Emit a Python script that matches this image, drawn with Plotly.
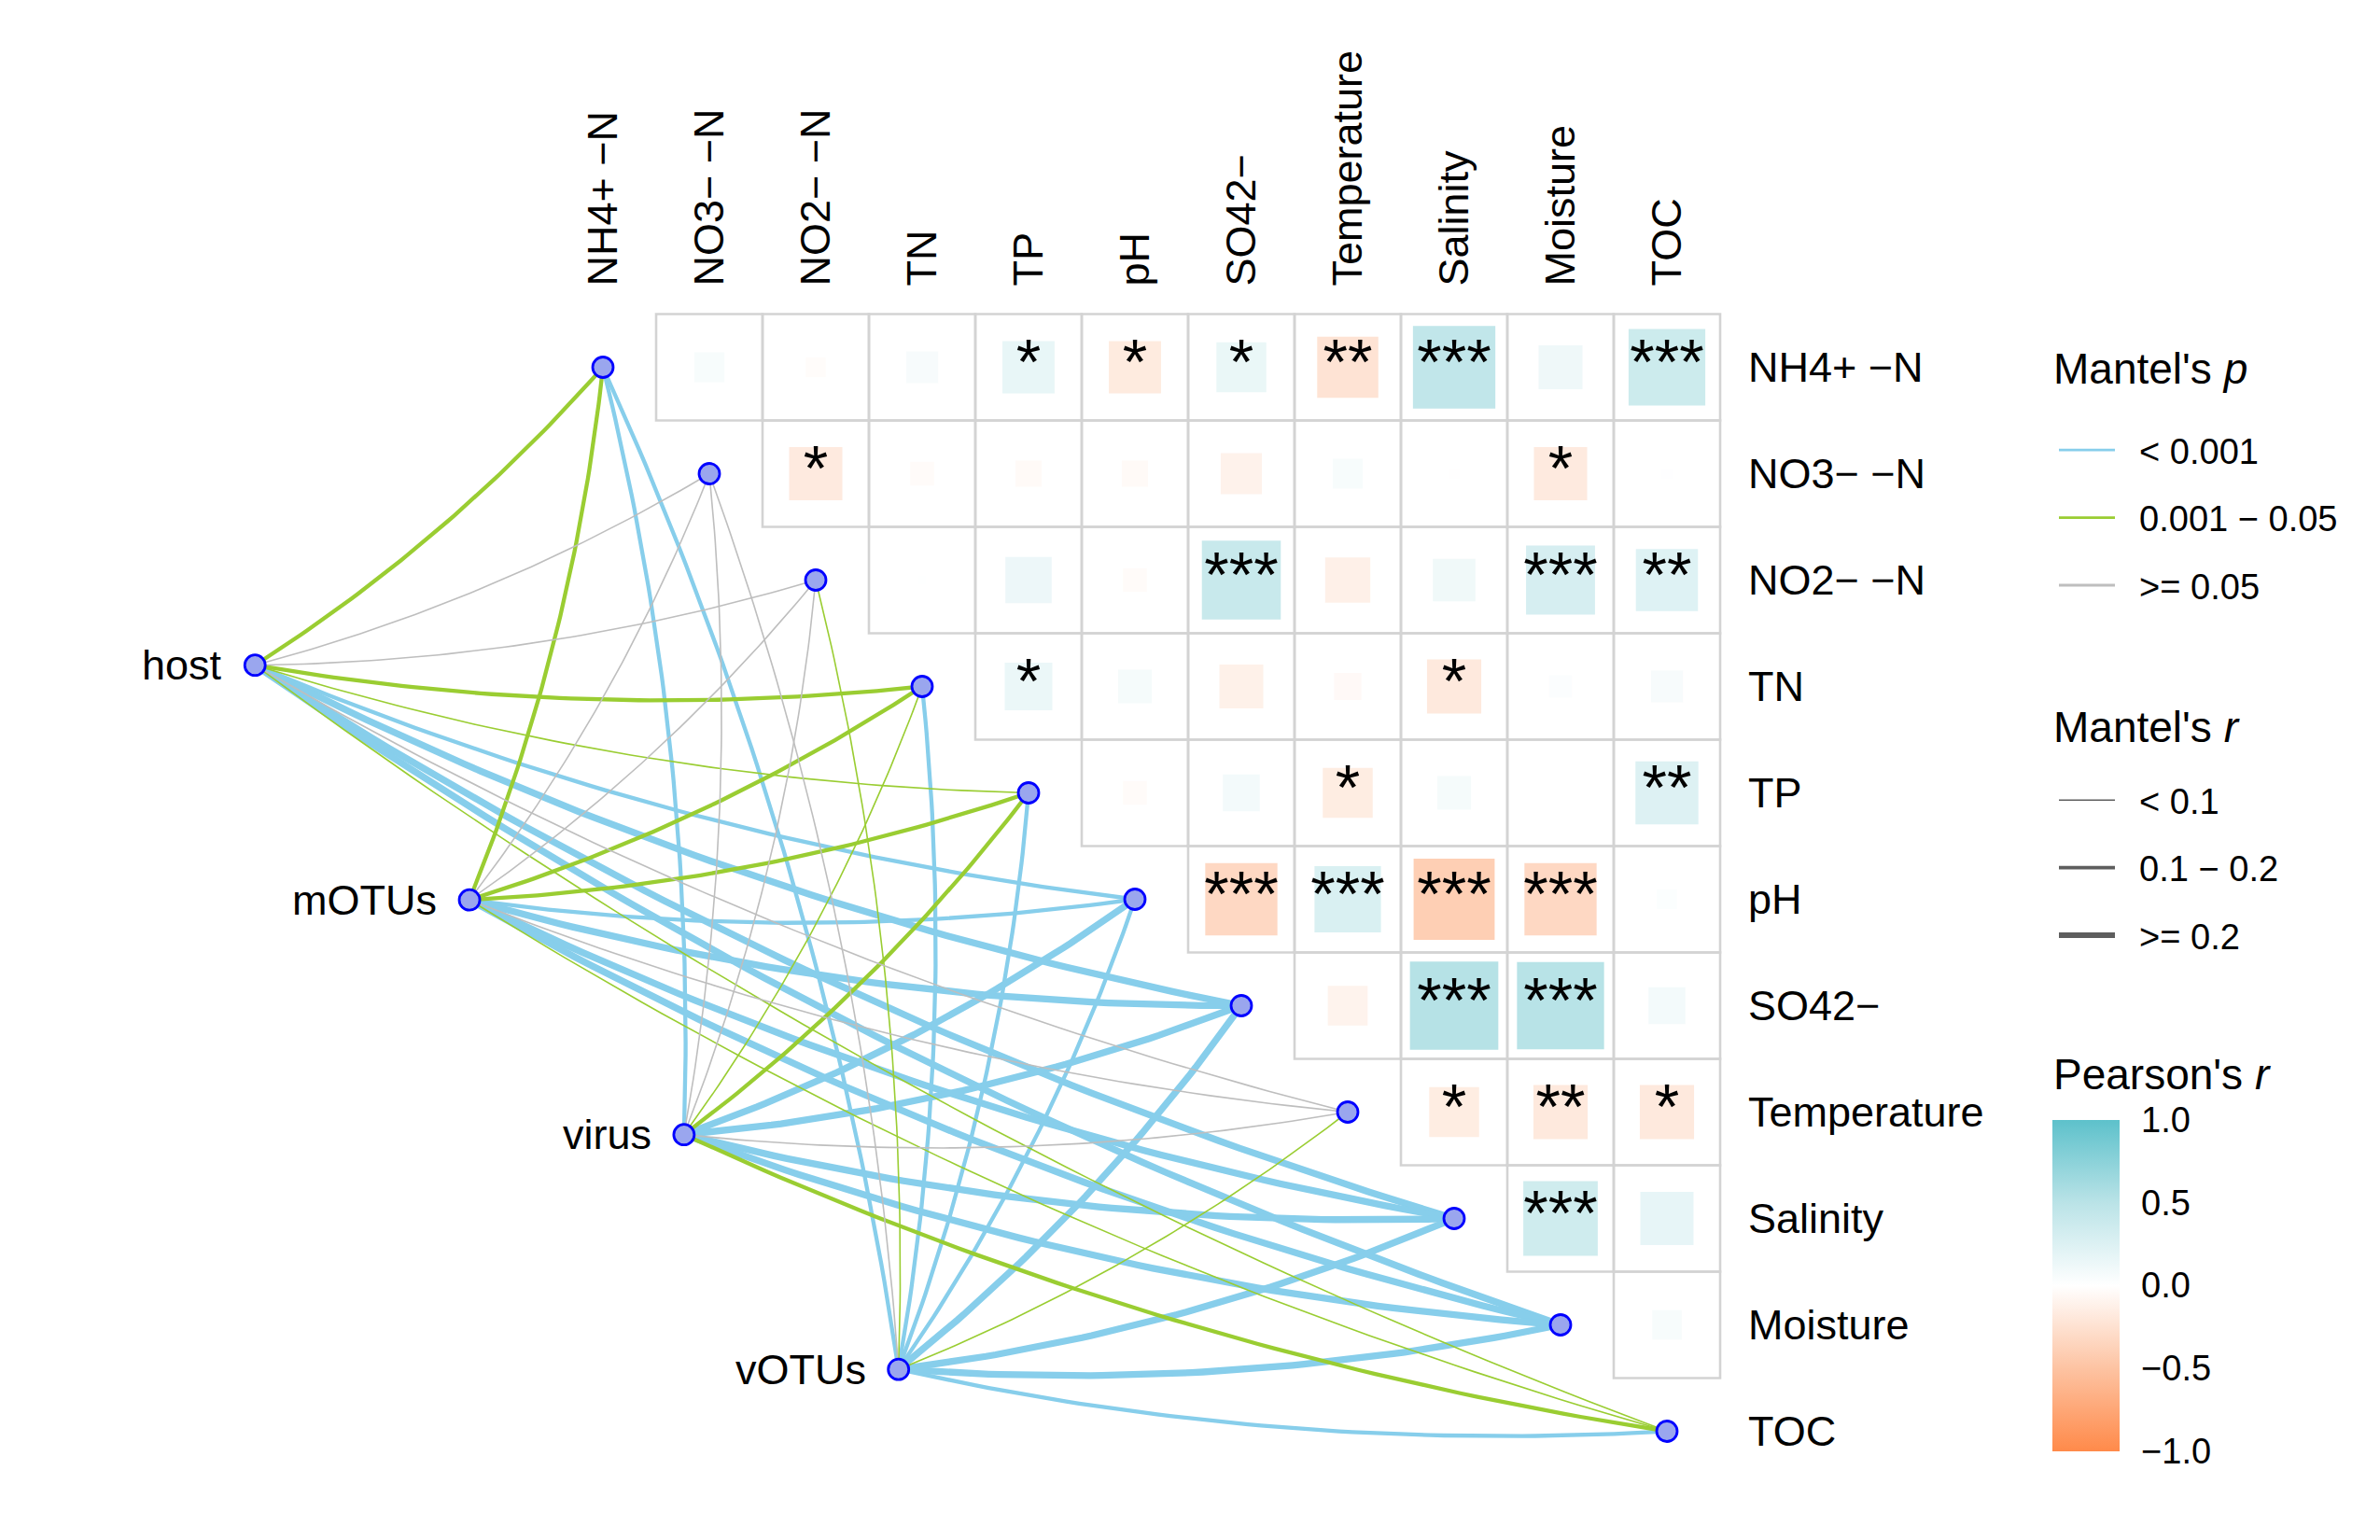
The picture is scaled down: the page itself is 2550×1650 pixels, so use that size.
import numpy as np
import plotly.graph_objects as go

# ---------------- data ----------------
env_vars = ["NH4+ −N", "NO3− −N", "NO2− −N", "TN", "TP", "pH", "SO42−",
            "Temperature", "Salinity", "Moisture", "TOC"]

# Pearson's r, upper triangle: row variable vs. the variables to its right
r_nh4 = [0.08, -0.035, 0.09, 0.24, -0.24, 0.22, -0.33, 0.60, 0.17, 0.52]
r_no3 = [-0.25, -0.05, -0.06, -0.06, -0.15, 0.08, -0.01, -0.25, 0.01]
r_no2 = [0.005, 0.19, -0.05, 0.55, -0.18, 0.16, 0.42, 0.34]
r_tn = [0.20, 0.10, -0.17, -0.065, -0.26, 0.045, 0.09]
r_tp = [-0.05, 0.12, -0.22, 0.10, 0.003, 0.35]
r_ph = [-0.46, 0.39, -0.58, -0.46, 0.035]
r_so4 = [-0.14, 0.69, 0.67, 0.12]
r_temp = [-0.22, -0.26, -0.26]
r_sal = [0.49, 0.25]
r_moist = [0.077]

sig_nh4 = ["", "", "", "*", "*", "*", "**", "***", "", "***"]
sig_no3 = ["*", "", "", "", "", "", "", "*", ""]
sig_no2 = ["", "", "", "***", "", "", "***", "**"]
sig_tn = ["*", "", "", "", "*", "", ""]
sig_tp = ["", "", "*", "", "", "**"]
sig_ph = ["***", "***", "***", "***", ""]
sig_so4 = ["", "***", "***", ""]
sig_temp = ["*", "**", "*"]
sig_sal = ["***", ""]
sig_moist = [""]

# Mantel tests: source -> each environmental variable (order of env_vars)
sources = ["host", "mOTUs", "virus", "vOTUs"]
p_levels = ["< 0.001", "0.001 − 0.05", ">= 0.05"]
r_levels = ["< 0.1", "0.1 − 0.2", ">= 0.2"]
host_p = [1, 2, 2, 1, 1, 0, 0, 2, 0, 0, 1]
host_r = [1, 0, 0, 1, 0, 1, 2, 0, 2, 2, 0]
motus_p = [1, 2, 2, 1, 1, 0, 0, 2, 0, 0, 1]
motus_r = [1, 0, 0, 1, 1, 1, 2, 0, 2, 2, 0]
virus_p = [0, 2, 2, 1, 1, 0, 0, 2, 0, 0, 1]
virus_r = [1, 0, 0, 0, 1, 2, 2, 0, 2, 2, 1]
votus_p = [0, 2, 1, 0, 0, 0, 0, 1, 0, 0, 0]
votus_r = [1, 0, 0, 1, 1, 1, 2, 0, 2, 2, 1]

# ---------------- layout / style constants ----------------
PAGE_W, PAGE_H = 2550, 1650
OFF = 8                              # default page margin of the html body
W, H = PAGE_W - 2 * OFF, PAGE_H - 2 * OFF
UNIT = 114.0                          # pixels per cell
X1_PG, Y1_PG = 646.0, 393.5           # page position of cell (1,1) centre
X1_PX, Y1_PX = X1_PG - OFF, Y1_PG - OFF
FONT = "Liberation Sans, Arial, sans-serif"
p_colors = ["#87CEEB", "#9ACD32", "#BEBEBE"]
r_widths = [1.6, 4.3, 7.3]
SRC_START = (-2.27, 3.80)
SRC_STEP = (2.016, 2.206)
CURV = 0.07
colorscale = [[0.0, "#FF8A4A"], [0.25, "#FDC3A2"], [0.5, "#FFFFFF"],
              [0.75, "#BAE3E7"], [1.0, "#5DC1CB"]]


def pxx(x_page):
    return (x_page - OFF) / W


def pxy(y_page):
    return 1 - (y_page - OFF) / H


xr = [1 - X1_PX / UNIT, 1 + (W - X1_PX) / UNIT]
yr = [1 + (H - Y1_PX) / UNIT, 1 - Y1_PX / UNIT]

r_rows = [r_nh4, r_no3, r_no2, r_tn, r_tp, r_ph, r_so4, r_temp, r_sal, r_moist]
sig_rows = [sig_nh4, sig_no3, sig_no2, sig_tn, sig_tp, sig_ph, sig_so4,
            sig_temp, sig_sal, sig_moist]
n = len(env_vars)

cx, cy, cr, ctext = [], [], [], []
for i, (rrow, srow) in enumerate(zip(r_rows, sig_rows), start=1):
    for k, (rv, sv) in enumerate(zip(rrow, srow)):
        j = i + 1 + k
        cx.append(j); cy.append(i); cr.append(rv); ctext.append(sv)
cr = np.array(cr)

fig = go.Figure()

# grid cells
shapes = []
for i in range(1, n):
    for j in range(i + 1, n + 1):
        shapes.append(dict(type="rect", xref="x", yref="y",
                           x0=j - 0.5, x1=j + 0.5, y0=i - 0.5, y1=i + 0.5,
                           line=dict(color="#D3D3D3", width=2.6),
                           fillcolor="rgba(0,0,0,0)", layer="below"))

# squares
fig.add_trace(go.Scatter(
    x=cx, y=cy, mode="markers", showlegend=False, hoverinfo="skip",
    marker=dict(symbol="square", size=np.sqrt(np.abs(cr)) * UNIT,
                color=cr, coloraxis="coloraxis", line=dict(width=0))))

# stars
sx = [x for x, t in zip(cx, ctext) if t]
sy = [y for y, t in zip(cy, ctext) if t]
st = [t for t in ctext if t]
fig.add_trace(go.Scatter(
    x=sx, y=sy, mode="text", text=st, showlegend=False, hoverinfo="skip",
    textposition="middle center",
    textfont=dict(size=68, color="black", family=FONT)))

# links
src_pos = [(SRC_START[0] + k * SRC_STEP[0], SRC_START[1] + k * SRC_STEP[1])
           for k in range(len(sources))]
p_all = [host_p, motus_p, virus_p, votus_p]
r_all = [host_r, motus_r, virus_r, votus_r]
segs = {}
tt = np.linspace(0, 1, 60)
for s, (sxp, syp) in enumerate(src_pos):
    for v in range(n):
        tx, ty = v + 1, v + 1
        dx, dy = tx - sxp, ty - syp
        mx, my = (sxp + tx) / 2, (syp + ty) / 2
        ccx, ccy = mx - CURV * dy, my + CURV * dx
        bx = (1 - tt) ** 2 * sxp + 2 * tt * (1 - tt) * ccx + tt ** 2 * tx
        by = (1 - tt) ** 2 * syp + 2 * tt * (1 - tt) * ccy + tt ** 2 * ty
        key = (r_all[s][v], p_all[s][v])
        segs.setdefault(key, ([], []))
        segs[key][0].extend(list(bx) + [None])
        segs[key][1].extend(list(by) + [None])

for rl in [2, 1, 0]:
    for pl in [0, 1, 2]:
        if (rl, pl) in segs:
            xs, ys = segs[(rl, pl)]
            fig.add_trace(go.Scatter(
                x=xs, y=ys, mode="lines", showlegend=False, hoverinfo="skip",
                line=dict(color=p_colors[pl], width=r_widths[rl])))

# nodes
node_x = [p[0] for p in src_pos] + list(range(1, n + 1))
node_y = [p[1] for p in src_pos] + list(range(1, n + 1))
fig.add_trace(go.Scatter(
    x=node_x, y=node_y, mode="markers", showlegend=False, hoverinfo="skip",
    marker=dict(size=22, color="#9AA6EE", line=dict(color="#0000FF", width=2.8))))

# helper trace so the label axes are drawn
fig.add_trace(go.Scatter(x=[None], y=[None], xaxis="x2", yaxis="y2",
                         showlegend=False, hoverinfo="skip"))

annotations = []
for name, (px, py) in zip(sources, src_pos):
    annotations.append(dict(x=px - 0.29, y=py, xref="x", yref="y", text=name,
                            showarrow=False, xanchor="right", yanchor="middle",
                            font=dict(size=45, color="black", family=FONT)))
for txt, ypg in [("Mantel's <i>p</i>", 395), ("Mantel's <i>r</i>", 779),
                 ("Pearson's <i>r</i>", 1151)]:
    annotations.append(dict(x=pxx(2198), y=pxy(ypg), xref="paper", yref="paper",
                            text=txt, showarrow=False, xanchor="left",
                            yanchor="middle",
                            font=dict(size=46, color="black", family=FONT)))

# legend entries
NB = "\u00a0\u00a0"
for k, lab in enumerate(p_levels):
    fig.add_trace(go.Scatter(x=[None], y=[None], mode="lines", name=NB + lab,
                             legend="legend", legendgroup="p%d" % k,
                             line=dict(color=p_colors[k], width=2.8)))
for k, lab in enumerate(r_levels):
    fig.add_trace(go.Scatter(x=[None], y=[None], mode="lines", name=NB + lab,
                             legend="legend2", legendgroup="r%d" % k,
                             line=dict(color="#5E5E5E", width=r_widths[k] * 0.85)))

leg_common = dict(xanchor="left", yanchor="top", font=dict(size=38, family=FONT),
                  itemwidth=60, tracegroupgap=20, bgcolor="rgba(0,0,0,0)",
                  traceorder="grouped", itemclick=False)

fig.update_layout(
    width=W, height=H, margin=dict(l=0, r=0, t=0, b=0),
    paper_bgcolor="white", plot_bgcolor="white",
    font=dict(family=FONT, color="black"),
    xaxis=dict(range=xr, visible=False, fixedrange=True),
    yaxis=dict(range=yr, visible=False, fixedrange=True),
    xaxis2=dict(overlaying="x", side="top", anchor="free",
                position=1 - (Y1_PX - 0.5 * UNIT) / H, range=xr,
                tickmode="array", tickvals=list(range(1, n + 1)), ticktext=env_vars,
                tickangle=-90, tickfont=dict(size=45, family=FONT),
                showgrid=False, zeroline=False, showline=False, ticks="",
                ticklabelstandoff=30, automargin=False, fixedrange=True),
    yaxis2=dict(overlaying="y", side="right", anchor="free",
                position=(X1_PX + (n - 0.5) * UNIT) / W, range=yr,
                tickmode="array", tickvals=list(range(1, n + 1)), ticktext=env_vars,
                tickfont=dict(size=45, family=FONT),
                showgrid=False, zeroline=False, showline=False, ticks="",
                ticklabelstandoff=29, automargin=False, fixedrange=True),
    coloraxis=dict(cmin=-1, cmax=1, colorscale=colorscale,
                   colorbar=dict(thickness=72, len=355, lenmode="pixels",
                                 x=pxx(2199), xanchor="left",
                                 y=pxy(1199.5), yanchor="top",
                                 xpad=0, ypad=0, outlinewidth=0,
                                 tickvals=[-1, -0.5, 0, 0.5, 1],
                                 ticktext=["−1.0", "−0.5", "0.0", "0.5", "1.0"],
                                 tickfont=dict(size=38, family=FONT),
                                 ticks="outside", ticklen=16, tickcolor="white")),
    legend=dict(x=pxx(2201), y=pxy(451), **leg_common),
    legend2=dict(x=pxx(2201), y=pxy(826), **leg_common),
    shapes=shapes, annotations=annotations,
)

fig.write_html("out.html")
